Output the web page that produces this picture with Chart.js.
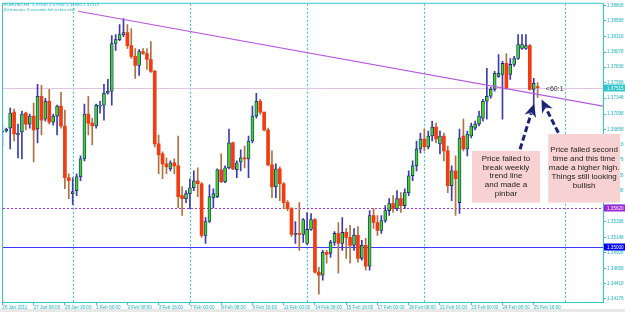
<!DOCTYPE html>
<html>
<head>
<meta charset="utf-8">
<script src="https://cdn.jsdelivr.net/npm/chart.js@4.4.0/dist/chart.umd.min.js"></script>
<style>
  html, body { margin: 0; padding: 0; background: #fff; }
  canvas { display: block; }
</style>
</head>
<body>
<canvas id="chart" width="625" height="312"></canvas>
<script>
// EURUSD H4, 26 Jan 2011 -> 25 Feb 2011, one entry per 4h bar
const opens = [
  1.36814, 1.36830, 1.36877, 1.37128, 1.36767, 1.36814, 1.37113, 1.36940, 1.37066, 1.36861,
  1.37380, 1.37018, 1.37301, 1.36971, 1.37066, 1.37223, 1.36909, 1.36092, 1.35841, 1.35888,
  1.36108, 1.36390, 1.37097, 1.36956, 1.36909, 1.37223, 1.37238, 1.37427, 1.37458, 1.38212,
  1.38274, 1.38353, 1.38384, 1.38180, 1.38008, 1.37866, 1.38086, 1.38055, 1.37960, 1.37772,
  1.36626, 1.36469, 1.36312, 1.36233, 1.36328, 1.36281, 1.35810, 1.35762, 1.35841, 1.35935,
  1.36045, 1.35998, 1.35182, 1.35401, 1.35778, 1.35794, 1.36218, 1.36029, 1.36249, 1.36642,
  1.36218, 1.36343, 1.36406, 1.36390, 1.36673, 1.37066, 1.37301, 1.37128, 1.36846, 1.36296,
  1.35951, 1.36233, 1.35998, 1.35700, 1.35605, 1.35197, 1.35213, 1.35197, 1.35056, 1.35276,
  1.35433, 1.34601, 1.34554, 1.34915, 1.34899, 1.35072, 1.35213, 1.35056, 1.35229, 1.35150,
  1.35025, 1.35182, 1.34820, 1.35025, 1.34695, 1.35496, 1.35386, 1.35260, 1.35417, 1.35574,
  1.35684, 1.35605, 1.35762, 1.35652, 1.35857, 1.36124, 1.36281, 1.36547, 1.36704, 1.36579,
  1.36752, 1.36893, 1.36626, 1.36752, 1.36516, 1.35967, 1.36202, 1.35700, 1.36752, 1.36547,
  1.36752, 1.36877, 1.36940, 1.37034, 1.37301, 1.37380, 1.37489, 1.37694, 1.37725, 1.37898,
  1.37725, 1.37882, 1.37976, 1.38133, 1.38133, 1.38180, 1.37489, 1.37530
];
const highs = [
  1.36924, 1.36877, 1.37191, 1.37175, 1.36940, 1.37144, 1.37128, 1.37097, 1.37270, 1.37568,
  1.37552, 1.37348, 1.37489, 1.37097, 1.37238, 1.37442, 1.37160, 1.36155, 1.36092, 1.36155,
  1.36438, 1.37254, 1.37380, 1.37034, 1.37254, 1.37301, 1.37568, 1.37646, 1.38337, 1.38353,
  1.38510, 1.38604, 1.38510, 1.38447, 1.38133, 1.38117, 1.38133, 1.38133, 1.38243, 1.37788,
  1.36767, 1.36500, 1.36406, 1.36359, 1.36390, 1.36752, 1.35951, 1.35888, 1.36076, 1.36202,
  1.36249, 1.36014, 1.35464, 1.35982, 1.35919, 1.36233, 1.36469, 1.36281, 1.36861, 1.36657,
  1.36359, 1.36532, 1.36594, 1.36752, 1.37223, 1.37427, 1.37332, 1.37128, 1.36877, 1.36516,
  1.36312, 1.36265, 1.36014, 1.35731, 1.35621, 1.35401, 1.35700, 1.35448, 1.35543, 1.35527,
  1.35448, 1.34679, 1.34946, 1.34946, 1.35103, 1.35244, 1.35386, 1.35464, 1.35291, 1.35339,
  1.35291, 1.35323, 1.35103, 1.35134, 1.35574, 1.35605, 1.35496, 1.35496, 1.35652, 1.35762,
  1.35810, 1.35888, 1.35857, 1.35919, 1.36202, 1.36359, 1.36673, 1.36799, 1.36861, 1.36830,
  1.36987, 1.36956, 1.36830, 1.36799, 1.36594, 1.36281, 1.36438, 1.36861, 1.37018, 1.36830,
  1.36956, 1.36987, 1.37144, 1.37332, 1.37819, 1.37521, 1.37772, 1.38039, 1.37929, 1.38055,
  1.37976, 1.38008, 1.38353, 1.38353, 1.38353, 1.38196, 1.37662, 1.37594
];
const lows = [
  1.36594, 1.36814, 1.36547, 1.36673, 1.36406, 1.36390, 1.36846, 1.36877, 1.36343, 1.36642,
  1.36767, 1.36987, 1.36940, 1.36924, 1.36767, 1.36877, 1.35919, 1.35762, 1.35668, 1.35810,
  1.36045, 1.36359, 1.36767, 1.36610, 1.36877, 1.37113, 1.37003, 1.37411, 1.37238, 1.38102,
  1.38259, 1.38322, 1.38133, 1.37976, 1.37662, 1.37709, 1.38039, 1.37803, 1.37756, 1.36579,
  1.36155, 1.36076, 1.36155, 1.36202, 1.36155, 1.35621, 1.35496, 1.35700, 1.35605, 1.35888,
  1.35794, 1.35150, 1.35056, 1.35386, 1.35621, 1.35778, 1.36014, 1.36014, 1.36233, 1.36218,
  1.36092, 1.36202, 1.36249, 1.36092, 1.36642, 1.37034, 1.37097, 1.36830, 1.36281, 1.35778,
  1.35778, 1.35731, 1.35605, 1.35574, 1.35166, 1.35056, 1.34946, 1.35072, 1.35040, 1.35260,
  1.34585, 1.34255, 1.34475, 1.34742, 1.34836, 1.35025, 1.34585, 1.34946, 1.34820, 1.34742,
  1.34946, 1.34758, 1.34789, 1.34632, 1.34632, 1.35291, 1.35182, 1.35213, 1.35386, 1.35496,
  1.35543, 1.35574, 1.35543, 1.35605, 1.35810, 1.36045, 1.36202, 1.36485, 1.36516, 1.36547,
  1.36673, 1.36642, 1.36469, 1.36359, 1.35857, 1.35731, 1.35496, 1.35527, 1.36516, 1.36438,
  1.36720, 1.36846, 1.36909, 1.36987, 1.37018, 1.37348, 1.37458, 1.37678, 1.37018, 1.37489,
  1.37646, 1.37851, 1.37960, 1.38117, 1.38117, 1.37474, 1.37144, 1.37360
];
const closes = [
  1.36822, 1.36861, 1.37113, 1.36783, 1.36799, 1.37097, 1.36940, 1.37066, 1.36846, 1.37380,
  1.37003, 1.37301, 1.36971, 1.37066, 1.37223, 1.36909, 1.36092, 1.36045, 1.35872, 1.36108,
  1.36390, 1.37097, 1.36956, 1.36909, 1.37238, 1.37238, 1.37427, 1.37458, 1.38212, 1.38274,
  1.38353, 1.38384, 1.38180, 1.38008, 1.37866, 1.38086, 1.38055, 1.37960, 1.37772, 1.36626,
  1.36453, 1.36312, 1.36265, 1.36328, 1.36281, 1.35794, 1.35762, 1.35841, 1.35935, 1.36045,
  1.35998, 1.35182, 1.35401, 1.35794, 1.35841, 1.36218, 1.36029, 1.36249, 1.36642, 1.36233,
  1.36328, 1.36406, 1.36390, 1.36673, 1.37066, 1.37301, 1.37128, 1.36846, 1.36296, 1.35951,
  1.36233, 1.35998, 1.35700, 1.35605, 1.35197, 1.35213, 1.35197, 1.35433, 1.35276, 1.35433,
  1.34601, 1.34554, 1.34915, 1.34883, 1.35072, 1.35213, 1.35056, 1.35229, 1.35150, 1.35025,
  1.35182, 1.34820, 1.35025, 1.34695, 1.35496, 1.35386, 1.35260, 1.35417, 1.35574, 1.35684,
  1.35605, 1.35762, 1.35652, 1.35857, 1.36124, 1.36281, 1.36547, 1.36704, 1.36579, 1.36752,
  1.36893, 1.36704, 1.36752, 1.36516, 1.35967, 1.36202, 1.36076, 1.36720, 1.36547, 1.36783,
  1.36909, 1.36940, 1.37066, 1.37301, 1.37380, 1.37489, 1.37741, 1.37741, 1.37898, 1.37505,
  1.37882, 1.37976, 1.38196, 1.38196, 1.38180, 1.37489, 1.37584, 1.37515
];

// time axis labels (every 8 bars)
const xTickIdx = [0, 8, 16, 24, 32, 40, 48, 56, 64, 72, 80, 88, 96, 104, 112, 120, 128, 136];
const xTickText = [
  "26 Jan 2011", "27 Jan 08:00", "28 Jan 16:00", "1 Feb 00:00", "2 Feb 08:00", "3 Feb 16:00",
  "7 Feb 00:00", "8 Feb 08:00", "9 Feb 16:00", "11 Feb 00:00", "14 Feb 08:00", "15 Feb 16:00",
  "17 Feb 00:00", "18 Feb 08:00", "21 Feb 16:00", "23 Feb 00:00", "24 Feb 08:00", "25 Feb 16:00"
];
// price axis labels
const yTicks = [
  1.38808, 1.38568, 1.38318, 1.38078, 1.37838, 1.37598, 1.37348, 1.37098, 1.36858, 1.36618,
  1.36378, 1.36128, 1.35888, 1.35638, 1.35398, 1.35148, 1.34908, 1.34658, 1.34418, 1.34178
];

// weekly separators (bar index)
const separatorIdx = [18, 48, 78, 108, 144];

// horizontal levels: bid line, dotted level, 1.35000 line
const levelPrices = [1.37515, 1.35620, 1.35000];

// weekly trend line (bar index, price)
const trendX = [19.4, 153.73];
const trendY = [1.38722, 1.37223];

// ---- styles ----
const AXIS_COLOR = "#30c8d0";
const TEXT_COLOR = "#22b4c4";
const BULL_BODY = "#3cd81c";
const BULL_EDGE = "#1a1a8c";
const BULL_WICK = "#3c3cb0";
const BEAR_BODY = "#f03c10";
const BEAR_WICK = "#b07040";
const TICK_FONT = { family: "Liberation Sans", size: 4.6 };

const levelStyles = [
  { line: "#e4c4e4", dash: [], box: "#2cc4c8" },
  { line: "#a030e0", dash: [2, 2], box: "#9a28d8" },
  { line: "#3a3aff", dash: [], box: "#0000ee" },
];

// annotations, placed in data coordinates (bar index / price)
const notes = [
  {
    x0: 120.2, x1: 137.6, top: 1.36516, bottom: 1.35700,
    lines: ["Price failed to", "break weekly", "trend line", "and made a", "pinbar"],
  },
  {
    x0: 139.7, x1: 158.1, top: 1.36783, bottom: 1.35700,
    lines: ["Price failed second", "time and this time", "made a higher high.", "Things still looking", "bullish"],
  },
];
const arrows = [
  { x0: 132.5, y0: 1.36543, x1: 136.1, y1: 1.37259 },
  { x0: 142.3, y0: 1.36803, x1: 138.0, y1: 1.37328 },
];
const ratioNote = { x: 139.1, y: 1.37489, text: "<60:1" };

const barIdx = opens.map((_, i) => i);
const isBull = (i) => closes[i] >= opens[i];

/**
 * Arrow with a dashed shaft and a notched head.
 */
function drawArrow(ctx, x0, y0, x1, y1) {
  const ang = Math.atan2(y1 - y0, x1 - x0);
  const headLen = 13;
  const headW = 6;
  const cos = Math.cos(ang);
  const sin = Math.sin(ang);
  const bx = x1 - headLen * cos;
  const by = y1 - headLen * sin;

  ctx.lineWidth = 3;
  ctx.setLineDash([6, 3]);
  ctx.beginPath();
  ctx.moveTo(x0, y0);
  ctx.lineTo(x1 - (headLen - 3) * cos, y1 - (headLen - 3) * sin);
  ctx.stroke();
  ctx.setLineDash([]);

  ctx.beginPath();
  ctx.moveTo(x1, y1);
  ctx.lineTo(bx + headW * sin, by - headW * cos);
  ctx.lineTo(x1 - headLen * 0.7 * cos, y1 - headLen * 0.7 * sin);
  ctx.lineTo(bx - headW * sin, by + headW * cos);
  ctx.closePath();
  ctx.fill();
}

const mtExtras = {
  id: "mtExtras",
  beforeDraw(chart) {
    const { ctx } = chart;
    ctx.save();
    ctx.fillStyle = "#ffffff";
    ctx.fillRect(0, 0, chart.width, chart.height);
    ctx.fillStyle = "#e8e8e8";
    ctx.fillRect(0, 309, chart.width, 3);
    ctx.restore();
  },
  beforeDatasetsDraw(chart) {
    const { ctx, chartArea: a, scales } = chart;
    const x = scales.x;
    const y = scales.y;
    ctx.save();

    // weekly separators
    ctx.strokeStyle = AXIS_COLOR;
    ctx.lineWidth = 1;
    ctx.setLineDash([2, 2]);
    separatorIdx.forEach((i) => {
      const px = Math.round(x.getPixelForValue(i)) + 0.5;
      ctx.beginPath();
      ctx.moveTo(px, a.top);
      ctx.lineTo(px, a.bottom);
      ctx.stroke();
    });

    // level lines
    levelPrices.forEach((p, k) => {
      const py = Math.round(y.getPixelForValue(p)) + 0.5;
      ctx.strokeStyle = levelStyles[k].line;
      ctx.setLineDash(levelStyles[k].dash);
      ctx.beginPath();
      ctx.moveTo(a.left, py);
      ctx.lineTo(a.right, py);
      ctx.stroke();
    });
    ctx.restore();
  },
  afterDraw(chart) {
    const { ctx, chartArea: a, scales } = chart;
    const x = scales.x;
    const y = scales.y;
    ctx.save();

    // frame
    ctx.strokeStyle = AXIS_COLOR;
    ctx.lineWidth = 1;
    ctx.setLineDash([]);
    ctx.strokeRect(a.left - 0.5, a.top - 0.5, a.right - a.left + 1, a.bottom - a.top + 1);

    // price boxes on the axis
    ctx.font = "4.6px 'Liberation Sans'";
    ctx.textBaseline = "middle";
    ctx.textAlign = "left";
    levelPrices.forEach((p, k) => {
      const py = Math.round(y.getPixelForValue(p));
      ctx.fillStyle = levelStyles[k].box;
      ctx.fillRect(a.right + 1, py - 3.5, chart.width - a.right, 7);
      ctx.fillStyle = "#ffffff";
      ctx.fillText(p.toFixed(5), a.right + 4, py + 0.5);
    });

    // header text
    ctx.fillStyle = TEXT_COLOR;
    ctx.font = "4.4px 'Liberation Sans'";
    const last = opens.length - 1;
    ctx.fillText(
      `EURUSD,H4  ${opens[last].toFixed(5)} ${highs[last].toFixed(5)} ${lows[last].toFixed(5)} ${closes[last].toFixed(5)}`,
      a.left + 1, 4.5
    );
    ctx.fillText("60 minutes 3 seconds left to bar end", a.left + 1, 10);

    // note boxes
    notes.forEach((n) => {
      const left = x.getPixelForValue(n.x0);
      const right = x.getPixelForValue(n.x1);
      const top = y.getPixelForValue(n.top);
      const bottom = y.getPixelForValue(n.bottom);
      ctx.fillStyle = "#f8d2d2";
      ctx.fillRect(left, top, right - left, bottom - top);
      ctx.fillStyle = "#222222";
      ctx.font = "8px 'Liberation Sans'";
      ctx.textAlign = "center";
      const lh = 8.8;
      const cy = (top + bottom) / 2 - ((n.lines.length - 1) * lh) / 2 - 0.5;
      n.lines.forEach((t, j) => ctx.fillText(t, (left + right) / 2, cy + j * lh));
    });

    // ratio label
    ctx.textAlign = "left";
    ctx.fillStyle = "#333333";
    ctx.font = "7px 'Liberation Sans'";
    ctx.fillText(ratioNote.text, x.getPixelForValue(ratioNote.x), y.getPixelForValue(ratioNote.y));

    // arrows
    ctx.strokeStyle = "#1c2478";
    ctx.fillStyle = "#1c2478";
    arrows.forEach((ar) => {
      drawArrow(
        ctx,
        x.getPixelForValue(ar.x0), y.getPixelForValue(ar.y0),
        x.getPixelForValue(ar.x1), y.getPixelForValue(ar.y1)
      );
    });
    ctx.restore();
  },
};

const ctx = document.getElementById("chart").getContext("2d");

new Chart(ctx, {
  type: "bar",
  data: {
    datasets: [
      {
        type: "line",
        label: "Trend",
        data: trendX.map((v, k) => ({ x: v, y: trendY[k] })),
        borderColor: "#b45ae0",
        borderWidth: 1.2,
        pointRadius: 0,
        order: -1,
      },
      {
        label: "Wicks",
        data: barIdx.map((i) => ({ x: i, y: [lows[i], highs[i]] })),
        backgroundColor: (c) => (isBull(c.dataIndex) ? BULL_WICK : BEAR_WICK),
        barThickness: 1,
        grouped: false,
        order: 2,
      },
      {
        label: "Bodies",
        data: barIdx.map((i) => ({ x: i, y: [opens[i], closes[i]] })),
        backgroundColor: (c) => (isBull(c.dataIndex) ? BULL_BODY : BEAR_BODY),
        borderColor: (c) => (isBull(c.dataIndex) ? BULL_EDGE : BEAR_BODY),
        borderWidth: (c) => (isBull(c.dataIndex) ? 0.8 : 0),
        borderSkipped: false,
        barThickness: 3,
        minBarLength: 1,
        grouped: false,
        order: 1,
      },
    ],
  },
  options: {
    responsive: false,
    animation: false,
    devicePixelRatio: 1,
    layout: { padding: { left: 3, top: 2, right: 0, bottom: 0 } },
    plugins: { legend: { display: false }, tooltip: { enabled: false } },
    scales: {
      x: {
        type: "linear",
        offset: false,
        min: 0.16,
        max: 153.73,
        afterBuildTicks: (s) => {
          s.ticks = xTickIdx.map((v) => ({ value: v }));
        },
        afterFit: (s) => {
          s.height = 10;
        },
        ticks: {
          callback: (v, idx) => xTickText[idx],
          align: "start",
          maxRotation: 0,
          autoSkip: false,
          padding: 0,
          color: TEXT_COLOR,
          font: TICK_FONT,
        },
        grid: { drawOnChartArea: false, offset: false, tickLength: 3, color: AXIS_COLOR },
        border: { display: false },
      },
      y: {
        position: "right",
        min: 1.3413,
        max: 1.3884,
        afterBuildTicks: (s) => {
          s.ticks = yTicks.map((v) => ({ value: v }));
        },
        afterFit: (s) => {
          s.width = 22;
        },
        ticks: {
          callback: (v) => v.toFixed(5),
          padding: 1,
          color: TEXT_COLOR,
          font: TICK_FONT,
        },
        grid: { drawOnChartArea: false, tickLength: 3, color: AXIS_COLOR },
        border: { display: false },
      },
    },
  },
  plugins: [mtExtras],
});
</script>
</body>
</html>
